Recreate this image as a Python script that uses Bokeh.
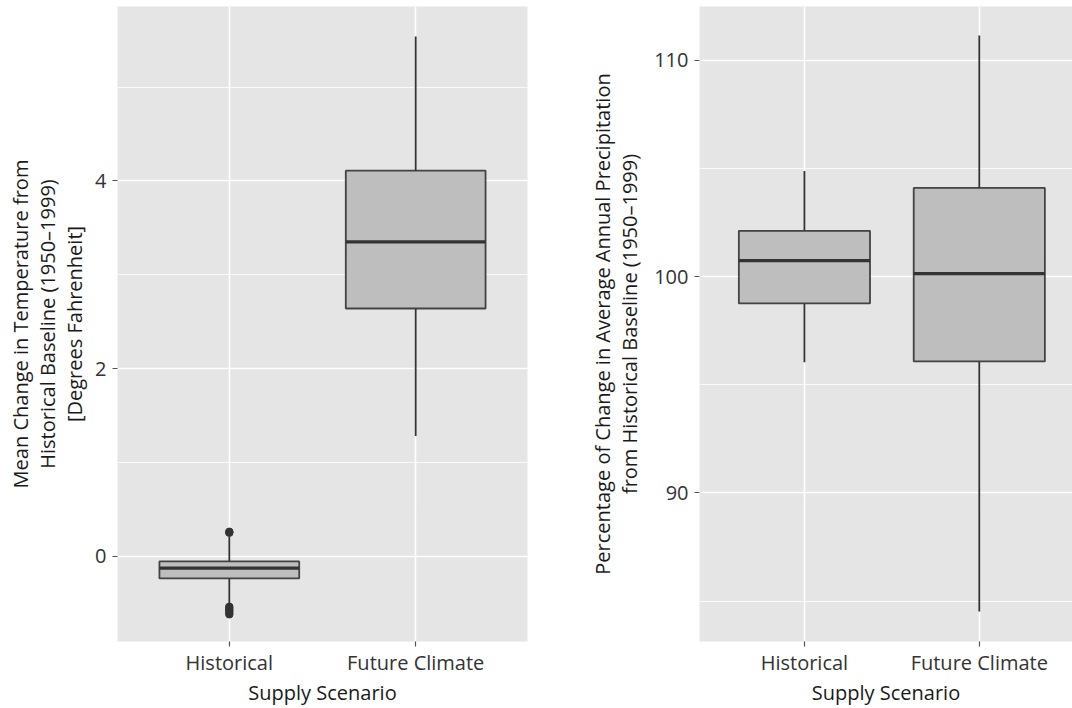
from bokeh.plotting import figure
from bokeh.layouts import row
from bokeh.models import ColumnDataSource, FixedTicker
from bokeh.embed import file_html
from bokeh.resources import INLINE

# ---------------- data ----------------
scenarios = ["Historical", "Future Climate"]

temp_lower = [-0.51, 1.28]
temp_q1 = [-0.237, 2.64]
temp_median = [-0.127, 3.35]
temp_q3 = [-0.056, 4.11]
temp_upper = [0.21, 5.54]
temp_outlier_scenario = ["Historical"] * 7
temp_outlier_values = [0.26, 0.25, -0.54, -0.56, -0.58, -0.60, -0.62]

precip_lower = [96.04, 84.52]
precip_q1 = [98.76, 96.08]
precip_median = [100.74, 100.14]
precip_q3 = [102.12, 104.10]
precip_upper = [104.88, 111.15]
precip_outlier_scenario = []
precip_outlier_values = []

temp_ticks = [0, 2, 4]
temp_minor = [1, 3, 5]
precip_ticks = [90, 100, 110]
precip_minor = [85, 95, 105]

FONT = "Open Sans"
BG = "#e5e5e5"
BOX_FILL = "#bebebe"
LINE = "#333333"
BOX_W = 0.75


def make_panel(lower, q1, med, q3, upper, out_s, out_v, yr, xr, yticks, yminor,
               ylabel, width, left_border, right_border, standoff):
    xs = [i + 1 for i in range(len(scenarios))]
    src = ColumnDataSource(dict(x=xs, lower=lower, q1=q1, med=med, q3=q3, upper=upper,
                                x0=[x - BOX_W / 2 for x in xs], x1=[x + BOX_W / 2 for x in xs]))
    p = figure(width=width, height=708, x_range=xr, y_range=yr,
               output_backend="svg", toolbar_location=None,
               min_border_left=left_border, min_border_right=right_border,
               min_border_top=6, min_border_bottom=65,
               background_fill_color=BG, border_fill_color="white")
    p.outline_line_color = None
    # whiskers
    p.segment(x0="x", y0="q3", x1="x", y1="upper", source=src, line_color=LINE, line_width=1.8)
    p.segment(x0="x", y0="q1", x1="x", y1="lower", source=src, line_color=LINE, line_width=1.8)
    # boxes
    p.vbar(x="x", width=BOX_W, bottom="q1", top="q3", source=src,
           fill_color=BOX_FILL, line_color=LINE, line_width=1.8, line_alpha=0.9)
    # medians
    p.segment(x0="x0", y0="med", x1="x1", y1="med", source=src, line_color=LINE, line_width=3.2)
    # outliers
    if out_v:
        ox = [scenarios.index(s) + 1 for s in out_s]
        p.scatter(ox, out_v, size=7.5, fill_color=LINE, line_color=LINE)

    # axes
    p.xaxis.ticker = FixedTicker(ticks=xs)
    p.xaxis.major_label_overrides = {x: s for x, s in zip(xs, scenarios)}
    p.yaxis.ticker = FixedTicker(ticks=yticks, minor_ticks=yminor)
    for ax in (p.xaxis[0], p.yaxis[0]):
        ax.axis_line_color = None
        ax.major_tick_in = 0
        ax.major_tick_out = 5
        ax.major_tick_line_color = "#555555"
        ax.major_tick_line_width = 1.2
        ax.minor_tick_line_color = None
        ax.major_label_text_font = FONT
        ax.major_label_text_font_size = "20px"
        ax.major_label_text_color = "#333333"
        ax.axis_label_text_font = FONT
        ax.axis_label_text_font_size = "20px"
        ax.axis_label_text_font_style = "normal"
        ax.axis_label_text_color = "#1a1a1a"
        ax.axis_label_text_line_height = 1.0
    p.xaxis.major_label_standoff = 2
    p.yaxis.major_label_standoff = 6
    p.xaxis.axis_label = "Supply Scenario"
    p.xaxis.axis_label_standoff = 0
    p.yaxis.axis_label = ylabel
    p.yaxis.axis_label_standoff = standoff

    # grid
    p.xgrid.grid_line_color = "white"
    p.xgrid.grid_line_width = 1.6
    p.ygrid.grid_line_color = "white"
    p.ygrid.grid_line_width = 1.6
    p.ygrid.minor_grid_line_color = "white"
    p.ygrid.minor_grid_line_width = 0.8
    return p


p1 = make_panel(temp_lower, temp_q1, temp_median, temp_q3, temp_upper,
                temp_outlier_scenario, temp_outlier_values,
                (-0.91, 5.86), (0.4, 2.6), temp_ticks, temp_minor,
                "Mean Change in Temperature from\nHistorical Baseline (1950\u20131999)\n[Degrees Fahrenheit]",
                width=547, left_border=117, right_border=20, standoff=4)

p2 = make_panel(precip_lower, precip_q1, precip_median, precip_q3, precip_upper,
                precip_outlier_scenario, precip_outlier_values,
                (83.13, 112.49), (0.4, 2.533), precip_ticks, precip_minor,
                "Percentage of Change in Average Annual Precipitation\nfrom Historical Baseline (1950\u20131999)",
                width=525, left_border=152, right_border=0, standoff=8)

p = row(p1, p2)
open("out.html", "w").write(file_html(p, INLINE))
